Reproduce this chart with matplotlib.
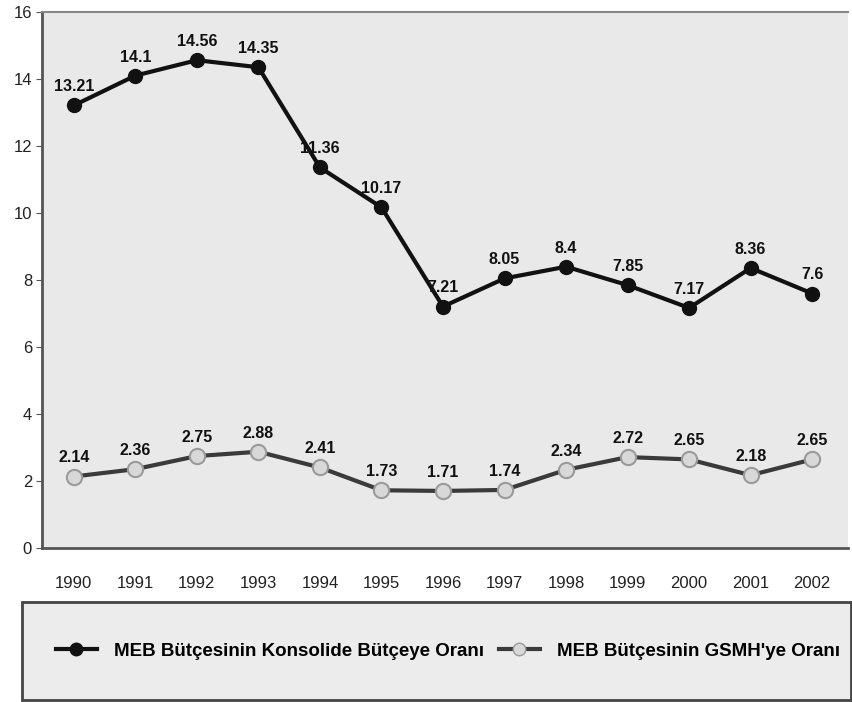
import matplotlib
matplotlib.use("Agg")
import matplotlib.pyplot as plt
from matplotlib.patches import Rectangle
from matplotlib.lines import Line2D

plt.rcParams['font.family'] = ['Liberation Sans', 'DejaVu Sans']

years = ["1990", "1991", "1992", "1993", "1994", "1995", "1996",
         "1997", "1998", "1999", "2000", "2001", "2002"]
konsolide = [13.21, 14.1, 14.56, 14.35, 11.36, 10.17, 7.21, 8.05, 8.4, 7.85, 7.17, 8.36, 7.6]
gsmh = [2.14, 2.36, 2.75, 2.88, 2.41, 1.73, 1.71, 1.74, 2.34, 2.72, 2.65, 2.18, 2.65]
konsolide_labels = ["13.21", "14.1", "14.56", "14.35", "11.36", "10.17", "7.21",
                    "8.05", "8.4", "7.85", "7.17", "8.36", "7.6"]
gsmh_labels = ["2.14", "2.36", "2.75", "2.88", "2.41", "1.73", "1.71",
               "1.74", "2.34", "2.72", "2.65", "2.18", "2.65"]
name1 = "MEB Bütçesinin Konsolide Bütçeye Oranı"
name2 = "MEB Bütçesinin GSMH'ye Oranı"

fig = plt.figure(figsize=(8.53, 7.02), dpi=100)
fig.patch.set_facecolor('white')
ax = fig.add_axes([0.049, 0.219, 0.945, 0.764])
ax.set_facecolor('#e9e9e9')

x = list(range(len(years)))
ax.plot(x, konsolide, color='#111111', lw=3, marker='o', ms=10,
        mfc='#111111', mec='#111111', zorder=3)
ax.plot(x, gsmh, color='#3a3a3a', lw=3, marker='o', ms=11,
        mfc='#d8d8d8', mec='#9a9a9a', mew=1.5, zorder=3)

for xi, v, s in zip(x, konsolide, konsolide_labels):
    ax.annotate(s, (xi, v), xytext=(0, 8), textcoords='offset points',
                ha='center', va='bottom', fontsize=11.5, fontweight='bold', color='#111111')
for xi, v, s in zip(x, gsmh, gsmh_labels):
    ax.annotate(s, (xi, v), xytext=(0, 8), textcoords='offset points',
                ha='center', va='bottom', fontsize=11.5, fontweight='bold', color='#111111')

ax.set_xlim(-0.52, 12.58)
ax.set_ylim(0, 16)
ax.set_yticks(range(0, 17, 2))
ax.set_xticks(x)
ax.set_xticklabels(years)
ax.tick_params(axis='y', length=4, color='#555555', labelsize=12, labelcolor='#222222', pad=3)
ax.tick_params(axis='x', length=0, labelsize=12, labelcolor='#222222', pad=20)
for sp in ['left', 'bottom']:
    ax.spines[sp].set_color('#555555')
    ax.spines[sp].set_linewidth(2)
ax.spines['top'].set_color('#888888')
ax.spines['top'].set_linewidth(1.5)
ax.spines['right'].set_visible(False)

# legend box
rect = Rectangle((22/853, 2/702), 829/853, 98/702, transform=fig.transFigure,
                 facecolor='#ececec', edgecolor='#444444', lw=2)
fig.patches.append(rect)
h1 = Line2D([], [], color='#111111', lw=3, marker='o', ms=9, mfc='#111111', mec='#111111')
h2 = Line2D([], [], color='#3a3a3a', lw=3, marker='o', ms=9, mfc='#d8d8d8', mec='#9a9a9a')
fig.legend([h1, h2], [name1, name2], loc='center', bbox_to_anchor=(0.525, 51/702),
           ncol=2, frameon=False, prop={'weight': 'bold', 'size': 13.5},
           handlelength=2.2, columnspacing=0.8, handletextpad=0.9)

fig.savefig('out.png', dpi=100)
